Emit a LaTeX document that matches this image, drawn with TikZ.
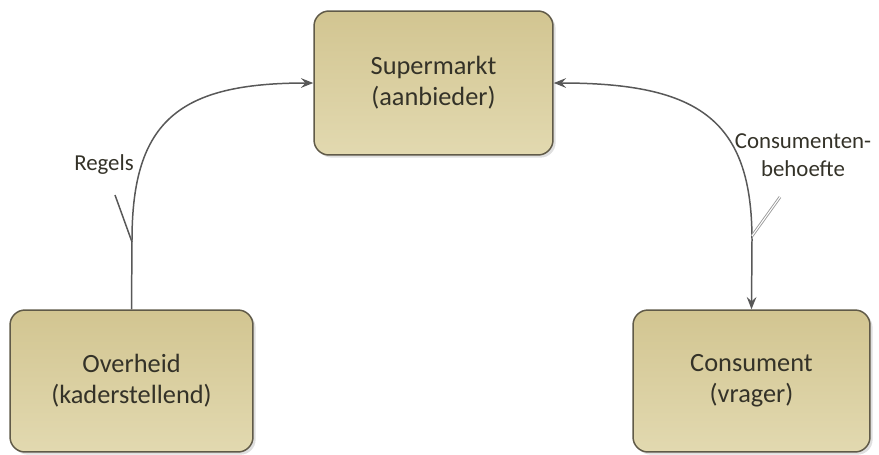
\documentclass[tikz,border=0pt]{standalone}
\usepackage{fontspec}
\setmainfont{Carlito}
\usetikzlibrary{arrows.meta,shadows}
\definecolor{boxtop}{RGB}{210,197,145}
\definecolor{boxbot}{RGB}{226,217,176}
\definecolor{boxline}{RGB}{96,90,72}
\definecolor{linec}{RGB}{88,88,88}
\definecolor{txt}{RGB}{52,50,40}

\begin{document}
\begin{tikzpicture}[x=0.02cm,y=-0.02cm,
  >={Stealth[length=7pt, width=5.5pt, inset=2.5pt]},
  party/.style={draw=boxline, line width=0.85pt, rounded corners=0.3cm,
    top color=boxtop, bottom color=boxbot, text=txt, align=center,
    font=\fontsize{15}{17.5}\selectfont,
    drop shadow={opacity=0.25, shadow xshift=1.5pt, shadow yshift=-1.5pt}},
  flow/.style={draw=linec, line width=0.85pt},
  lbl/.style={text=txt, align=center, font=\fontsize{13}{16}\selectfont}]
\useasboundingbox (0,0) rectangle (879,454);

\node[party, minimum width=4.78cm, minimum height=2.88cm] (sm) at (433.5,83) {Supermarkt\\(aanbieder)};
\node[party, minimum width=4.86cm, minimum height=2.84cm] (ov) at (131.5,381) {Overheid\\(kaderstellend)};
\node[party, minimum width=4.74cm, minimum height=2.84cm] (cons) at (751.5,381) {Consument\\(vrager)};

\node[lbl] (regels) at (104,165) {Regels};
\node[lbl] (behoefte) at (803,155) {Consumenten-\\behoefte};

\coordinate (rtail) at (115,195);
\coordinate (rtip) at (132,242);
\coordinate (btail) at (780,197);
\coordinate (btip) at (752,236);

\draw[flow, ->] (ov.north) -- (132,240) .. controls (132,120) and (180,83) .. (sm.west);
\draw[flow, <->] (sm.east) .. controls (699,83) and (752,120) .. (752,240) -- (cons.north);

\draw[flow] (rtail) -- (rtip);
\draw[draw=gray!80, line width=0.5pt, double=white, double distance=0.6pt] (btail) -- (btip);
\end{tikzpicture}
\end{document}
